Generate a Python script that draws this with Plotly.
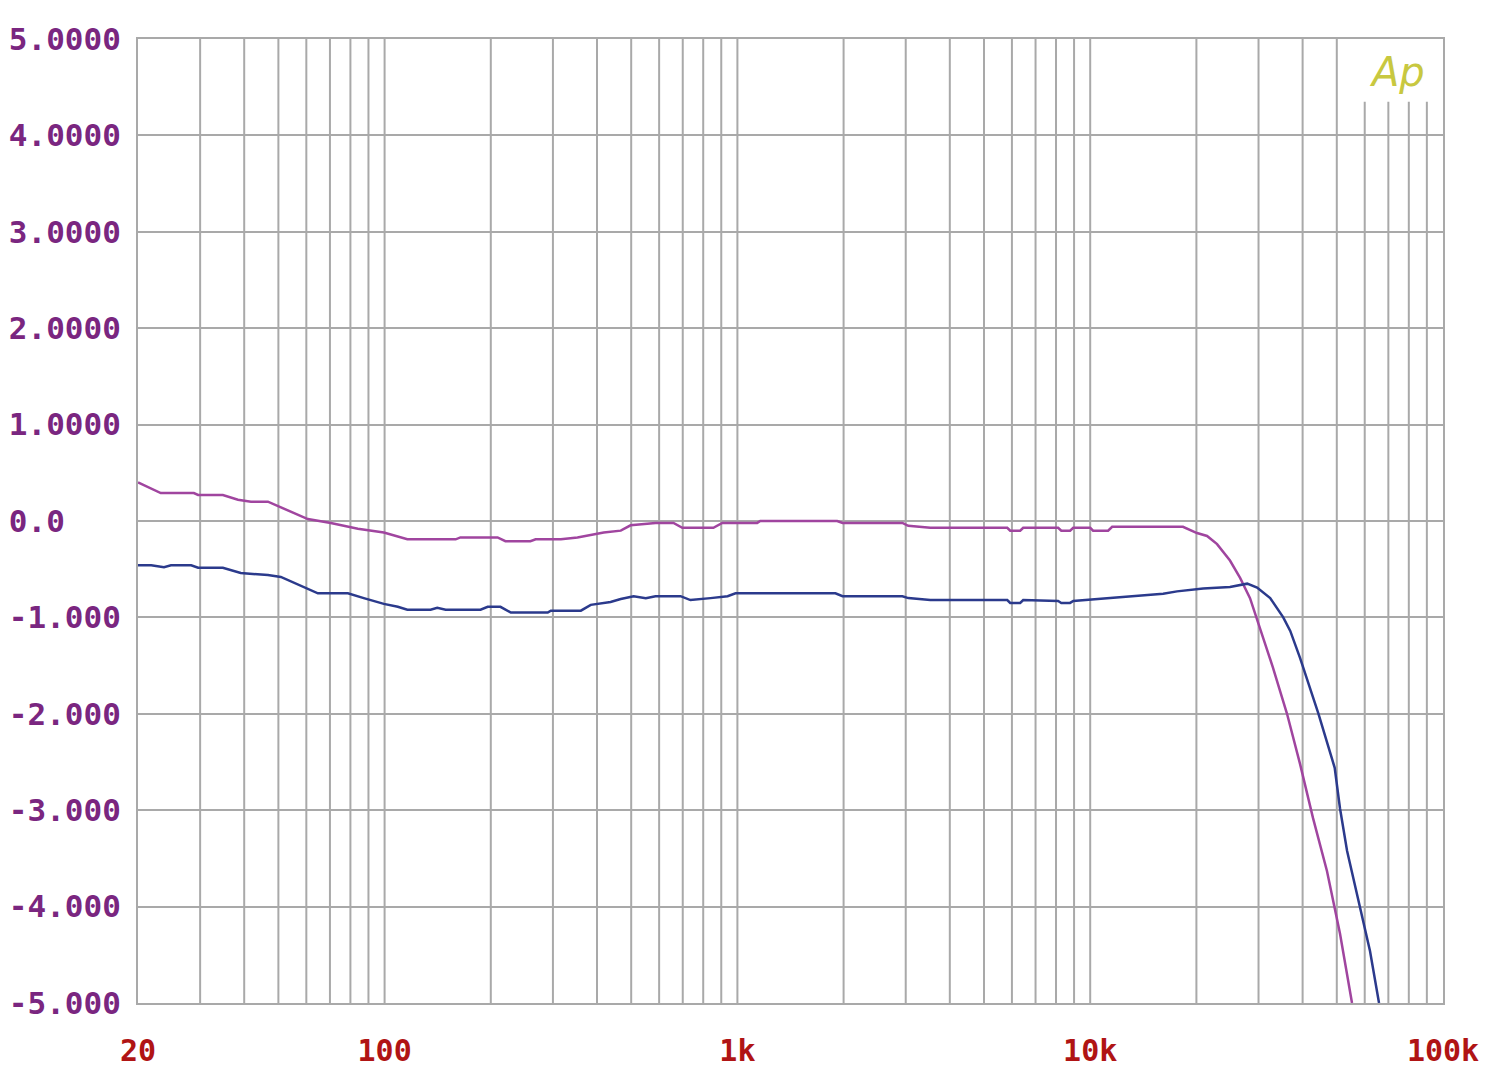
import plotly.graph_objects as go

# ---- data (frequency in Hz, level in dB) ----
purple_freq = [20, 23.2, 28.8, 29.6, 34.8, 38.4, 41.8, 46.7, 60.6, 70.4, 84.0, 99.5, 116, 159, 164,
               209, 220, 259, 268, 316, 352, 418, 467, 498, 586, 659, 698, 855, 906, 1138, 1161,
               1918, 1986, 2936, 3050, 3522, 5820, 5932, 6332, 6458, 8112, 8280, 8770, 8954,
               10000, 10190, 11240, 11540, 18320, 20080, 21440, 22890, 24900, 26600, 28380,
               30290, 32960, 36130, 39330, 42800, 46890, 51050, 55220]
purple_db = [0.40, 0.29, 0.29, 0.27, 0.27, 0.22, 0.20, 0.20, 0.02, -0.02, -0.08, -0.12, -0.19, -0.19, -0.17,
             -0.17, -0.21, -0.21, -0.19, -0.19, -0.17, -0.12, -0.10, -0.045, -0.02, -0.02, -0.07, -0.07, -0.02, -0.02, 0.0,
             0.0, -0.02, -0.02, -0.05, -0.07, -0.07, -0.10, -0.10, -0.07, -0.07, -0.10, -0.10, -0.07,
             -0.07, -0.10, -0.10, -0.06, -0.06, -0.125, -0.155, -0.24, -0.41, -0.59, -0.80,
             -1.11, -1.52, -2.00, -2.52, -3.08, -3.63, -4.28, -5.0]

blue_freq = [20, 21.8, 23.7, 24.8, 28.3, 29.6, 34.8, 36.7, 39.1, 46.7, 50.8, 64.7, 78.7, 87.3, 99.5,
             109, 116, 135, 141, 149, 187, 196, 213, 228, 290, 296, 360, 384, 437, 467, 508, 550,
             586, 690, 736, 839, 938, 988, 1896, 1986, 2936, 3050, 3522, 5820, 5932, 6332, 6458,
             8112, 8280, 8770, 8954, 11390, 13580, 16100, 17620, 20900, 24900, 27860, 29720,
             32370, 35250, 36900, 39330, 44370, 49320, 51050, 53460, 58220, 62100, 65870]
blue_db = [-0.46, -0.46, -0.48, -0.46, -0.46, -0.485, -0.485, -0.51, -0.54, -0.56, -0.58, -0.75, -0.75, -0.80, -0.86,
           -0.89, -0.92, -0.92, -0.90, -0.92, -0.92, -0.89, -0.89, -0.95, -0.95, -0.93, -0.93, -0.87, -0.84, -0.81, -0.78, -0.80,
           -0.78, -0.78, -0.82, -0.80, -0.78, -0.75, -0.75, -0.78, -0.78, -0.80, -0.82, -0.82, -0.85, -0.85, -0.82,
           -0.83, -0.85, -0.85, -0.83, -0.80, -0.78, -0.755, -0.73, -0.70, -0.685, -0.65, -0.69,
           -0.80, -1.00, -1.14, -1.42, -2.00, -2.56, -2.98, -3.42, -4.01, -4.46, -5.0]

y_tick_vals = [5, 4, 3, 2, 1, 0, -1, -2, -3, -4, -5]
y_tick_text = ["5.0000", "4.0000", "3.0000", "2.0000", "1.0000", "0.0\u00a0\u00a0\u00a0",
               "-1.000", "-2.000", "-3.000", "-4.000", "-5.000"]
x_tick_vals = [20, 100, 1000, 10000, 100000]
x_tick_text = ["20", "100", "1k", "10k", "100k"]

grid_full = [30, 40, 50, 60, 70, 80, 90, 100, 200, 300, 400, 500, 600, 700, 800, 900, 1000,
             2000, 3000, 4000, 5000, 6000, 7000, 8000, 9000, 10000,
             20000, 30000, 40000, 50000]
grid_short = [60000, 70000, 80000, 90000]
short_top = 4.35

GRID = "#a9a9a9"

fig = go.Figure()
fig.add_trace(go.Scatter(x=purple_freq, y=purple_db, mode="lines",
                         line=dict(color="#a0459f", width=2.5), showlegend=False))
fig.add_trace(go.Scatter(x=blue_freq, y=blue_db, mode="lines",
                         line=dict(color="#2b3a8c", width=2.5), showlegend=False))

shapes = []
for g in grid_full:
    shapes.append(dict(type="line", xref="x", yref="y", x0=g, x1=g, y0=-5, y1=5,
                       line=dict(color=GRID, width=2), layer="below"))
for g in grid_short:
    shapes.append(dict(type="line", xref="x", yref="y", x0=g, x1=g, y0=-5, y1=short_top,
                       line=dict(color=GRID, width=2), layer="below"))

fig.update_layout(
    width=1500, height=1072,
    margin=dict(l=130, r=65, t=31, b=77),
    paper_bgcolor="white", plot_bgcolor="white",
    shapes=shapes,
    xaxis=dict(type="log", range=[1.30103, 5], showgrid=False, zeroline=False,
               showline=True, linecolor=GRID, linewidth=2, mirror=True, automargin=False,
               tickmode="array", tickvals=x_tick_vals, ticktext=x_tick_text,
               ticks="", ticklabelstandoff=20,
               tickfont=dict(family="DejaVu Sans Mono", size=30, color="#b01414", weight="bold")),
    yaxis=dict(range=[-5, 5], showgrid=True, gridcolor=GRID, gridwidth=2, zeroline=False,
               showline=True, linecolor=GRID, linewidth=2, mirror=True, automargin=False,
               tickmode="array", tickvals=y_tick_vals, ticktext=y_tick_text,
               ticks="", ticklabelstandoff=9,
               tickfont=dict(family="DejaVu Sans Mono", size=31, color="#7a2680", weight="bold")),
    annotations=[dict(text="<i>Ap</i>", xref="paper", yref="paper", x=0.997, y=1.0,
                      xanchor="right", yanchor="top", yshift=-8, xshift=-12,
                      showarrow=False, font=dict(family="DejaVu Sans", size=40, color="#c8c840"))],
)

fig.write_html("out.html")
